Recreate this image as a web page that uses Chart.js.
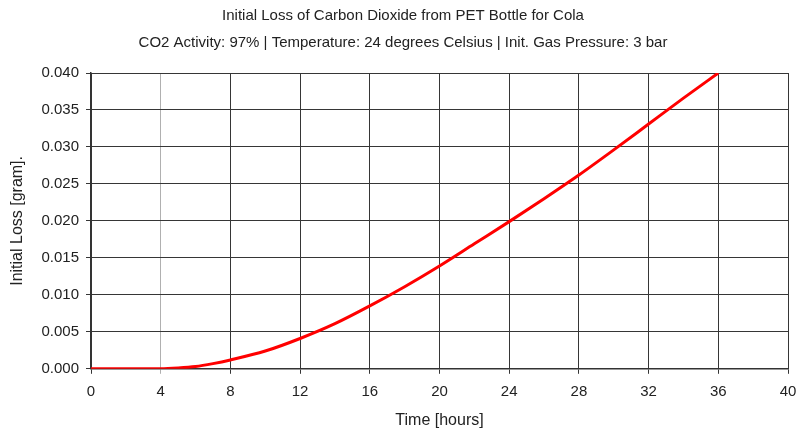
<!DOCTYPE html>
<html>
<head>
<meta charset="utf-8">
<script src="https://cdn.jsdelivr.net/npm/chart.js@4/dist/chart.umd.min.js"></script>
<style>
  html, body { margin: 0; padding: 0; background: #fff; }
  #wrap { width: 798px; height: 432px; }
</style>
</head>
<body>
<div id="wrap"><canvas id="c" width="798" height="432"></canvas></div>
<script>
// Elapsed time in hours
const hours = [0, 2, 4, 5, 6, 7, 8, 10, 12, 14, 16, 18, 20, 22, 24, 26, 28, 30, 32, 34, 36];
// Cumulative CO2 loss in grams
const lossGram = [0, 0, 0, 0.0001, 0.0003, 0.0007, 0.0012, 0.0024, 0.0041, 0.0061, 0.0085, 0.0111, 0.0139, 0.0169, 0.0199, 0.0230, 0.0262, 0.0296, 0.0331, 0.0366, 0.0400];
const xTicks = [0, 4, 8, 12, 16, 20, 24, 28, 32, 36, 40];
const yTicks = [0, 0.005, 0.01, 0.015, 0.02, 0.025, 0.03, 0.035, 0.04];

const FONT = "'Liberation Sans', Arial, sans-serif";
const TEXT = '#222';

new Chart(document.getElementById('c'), {
  type: 'line',
  data: {
    datasets: [{
      data: hours.map((h, i) => ({ x: h, y: lossGram[i] })),
      borderColor: '#ff0000',
      borderWidth: 3,
      pointRadius: 0,
      cubicInterpolationMode: 'monotone',
      fill: false
    }]
  },
  options: {
    responsive: false,
    animation: false,
    layout: { padding: { left: 8, right: 0, top: 0, bottom: 2 } },
    plugins: {
      legend: { display: false },
      tooltip: { enabled: false },
      title: {
        display: true,
        text: 'Initial Loss of Carbon Dioxide from PET Bottle for Cola',
        color: TEXT,
        font: { family: FONT, size: 15, weight: 'normal' },
        padding: { top: 7, bottom: 6 }
      },
      subtitle: {
        display: true,
        text: 'CO2 Activity: 97% | Temperature: 24 degrees Celsius | Init. Gas Pressure: 3 bar',
        color: TEXT,
        font: { family: FONT, size: 15, weight: 'normal' },
        padding: { top: 3, bottom: 21 }
      }
    },
    scales: {
      x: {
        type: 'linear',
        min: 0,
        max: 40,
        afterBuildTicks: (axis) => { axis.ticks = xTicks.map(v => ({ value: v })); },
        // let the last tick label run into the right margin
        afterFit: (axis) => { axis.paddingRight = 10; },
        ticks: {
          color: TEXT,
          font: { family: FONT, size: 15 },
          padding: 9,
          maxRotation: 0,
          callback: (v) => String(v)
        },
        grid: {
          color: (ctx) => (ctx.tick && ctx.tick.value === 4) ? '#b0b0b0' : '#363636',
          lineWidth: 1,
          tickLength: 5
        },
        border: { color: '#333', width: 1.5 },
        title: {
          display: true,
          text: 'Time [hours]',
          color: TEXT,
          font: { family: FONT, size: 16 },
          padding: { top: 1, bottom: 0 }
        }
      },
      y: {
        type: 'linear',
        min: 0,
        max: 0.04,
        afterBuildTicks: (axis) => { axis.ticks = yTicks.map(v => ({ value: v })); },
        afterFit: (axis) => { axis.width = 83; },
        ticks: {
          color: TEXT,
          font: { family: FONT, size: 15 },
          padding: 7,
          callback: (v) => Number(v).toFixed(3)
        },
        grid: {
          color: '#363636',
          lineWidth: 1,
          tickLength: 5
        },
        border: { color: '#333', width: 1.5 },
        title: {
          display: true,
          text: 'Initial Loss [gram].',
          color: TEXT,
          font: { family: FONT, size: 16 },
          padding: { top: 0, bottom: 2 }
        }
      }
    }
  }
});
</script>
</body>
</html>
